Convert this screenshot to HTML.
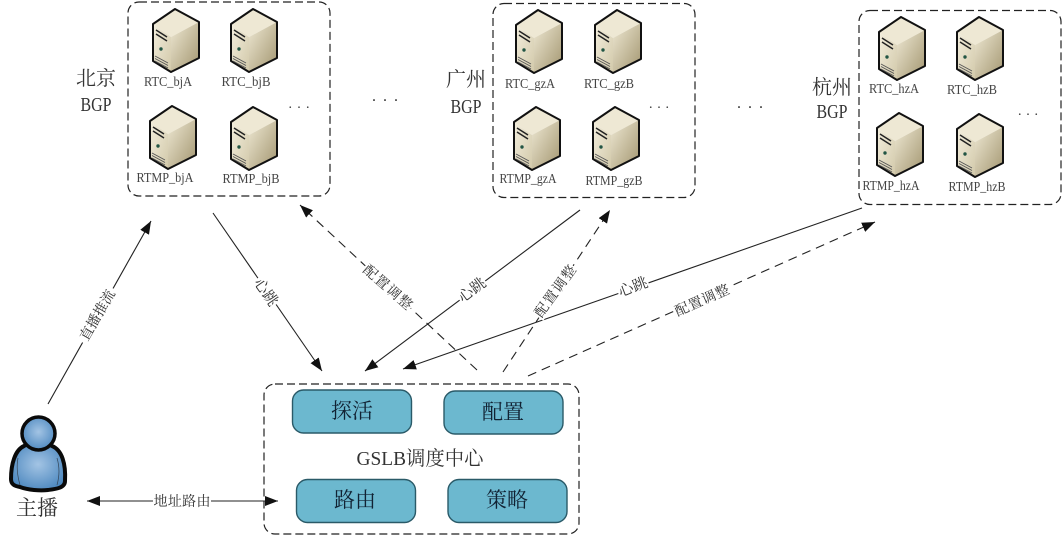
<!DOCTYPE html>
<html><head><meta charset="utf-8"><style>
html,body{margin:0;padding:0;background:#fff;width:1064px;height:538px;overflow:hidden}
svg{display:block}
text{font-family:"Liberation Serif","Noto Serif CJK SC",serif;fill:#333;text-anchor:middle}
.n{font-size:13.500px;fill:#444}
.big{font-size:20px;fill:#333}
.lb{font-size:14px;fill:#333}
.hb{font-size:15px;fill:#333}
.b{font-size:21px;fill:#123}
.box{fill:none;stroke:#222;stroke-width:1.2;stroke-dasharray:8 4}
.in{fill:#6cb8cf;stroke:#2a5a68;stroke-width:1.4}
.l{stroke:#222;stroke-width:1.1;fill:none}
.d{stroke:#222;stroke-width:1.1;fill:none;stroke-dasharray:9 6}
</style></head><body>
<svg width="1064" height="538" viewBox="0 0 1064 538" xmlns="http://www.w3.org/2000/svg">
<defs>
<linearGradient id="f" x1="0" y1="0" x2="1" y2="1"><stop offset="0" stop-color="#f3eedd"/><stop offset="1" stop-color="#d2c9aa"/></linearGradient>
<linearGradient id="r" x1="0" y1="0" x2="1" y2="1"><stop offset="0" stop-color="#eee8d3"/><stop offset="1" stop-color="#a2956f"/></linearGradient>
<radialGradient id="p" cx=".5" cy=".45" r=".6"><stop offset="0" stop-color="#a3c4e4"/><stop offset="1" stop-color="#4a86be"/></radialGradient>
<marker id="a" markerWidth="14" markerHeight="12" refX="13" refY="5" orient="auto" markerUnits="userSpaceOnUse"><path d="M0 0L13 5L0 10z" fill="#111"/></marker>
<marker id="as" markerWidth="14" markerHeight="12" refX="0" refY="5" orient="auto" markerUnits="userSpaceOnUse"><path d="M13 0L0 5L13 10z" fill="#111"/></marker>
<symbol id="s" width="50" height="66" overflow="visible">
<path d="M23 1L47 14L19 29L1 16z" fill="#eee8d4"/>
<path d="M1 16L19 29V64L1 53z" fill="url(#f)"/>
<path d="M19 29L47 14V50L19 64z" fill="url(#r)"/>
<path d="M23 1L47 14V50L19 64L1 53V16z" fill="none" stroke="#111" stroke-width="2" stroke-linejoin="round"/>
<path d="M4 22L15 29M4 26L15 33" stroke="#222" stroke-width="1.5"/>
<circle cx="9" cy="41" r="1.7" fill="#254"/>
<path d="M3 48L16 55M3 50.500L16 57.500M3 53L16 60" stroke="#555" stroke-width=".9"/>
</symbol>
</defs>

<rect class="box" x="128" y="2" width="202" height="194" rx="11"/>
<rect class="box" x="493" y="3.500" width="202" height="194" rx="11"/>
<rect class="box" x="859" y="10.500" width="202" height="194" rx="11"/>
<rect class="box" x="264" y="384" width="315" height="150" rx="11"/>

<use href="#s" x="152" y="8"/><use href="#s" x="230" y="8"/>
<use href="#s" x="149" y="105"/><use href="#s" x="230" y="106"/>
<use href="#s" x="515" y="9"/><use href="#s" x="594" y="9"/>
<use href="#s" x="513" y="106"/><use href="#s" x="592" y="106"/>
<use href="#s" x="878" y="16"/><use href="#s" x="956" y="16"/>
<use href="#s" x="876" y="112"/><use href="#s" x="956" y="113"/>

<text class="n" x="168" y="86" textLength="48" lengthAdjust="spacingAndGlyphs">RTC_bjA</text>
<text class="n" x="246" y="86" textLength="49" lengthAdjust="spacingAndGlyphs">RTC_bjB</text>
<text class="n" x="165" y="182" textLength="57" lengthAdjust="spacingAndGlyphs">RTMP_bjA</text>
<text class="n" x="251" y="183" textLength="57" lengthAdjust="spacingAndGlyphs">RTMP_bjB</text>
<text class="n" x="530" y="88" textLength="50" lengthAdjust="spacingAndGlyphs">RTC_gzA</text>
<text class="n" x="609" y="88" textLength="50" lengthAdjust="spacingAndGlyphs">RTC_gzB</text>
<text class="n" x="528" y="183" textLength="57" lengthAdjust="spacingAndGlyphs">RTMP_gzA</text>
<text class="n" x="614" y="185" textLength="57" lengthAdjust="spacingAndGlyphs">RTMP_gzB</text>
<text class="n" x="894" y="93" textLength="50" lengthAdjust="spacingAndGlyphs">RTC_hzA</text>
<text class="n" x="972" y="94" textLength="50" lengthAdjust="spacingAndGlyphs">RTC_hzB</text>
<text class="n" x="891" y="190" textLength="57" lengthAdjust="spacingAndGlyphs">RTMP_hzA</text>
<text class="n" x="977" y="191" textLength="57" lengthAdjust="spacingAndGlyphs">RTMP_hzB</text>

<text class="big" x="96" y="85">北京</text><text class="big" x="96" y="111" textLength="31" lengthAdjust="spacingAndGlyphs">BGP</text>
<text class="big" x="466" y="86">广州</text><text class="big" x="466" y="113" textLength="31" lengthAdjust="spacingAndGlyphs">BGP</text>
<text class="big" x="832" y="94">杭州</text><text class="big" x="832" y="118" textLength="31" lengthAdjust="spacingAndGlyphs">BGP</text>

<text x="299" y="108" font-size="14" textLength="21">...</text>
<text x="385" y="101" font-size="16" textLength="26">...</text>
<text x="659" y="108" font-size="14" textLength="20">...</text>
<text x="750" y="108" font-size="16" textLength="26">...</text>
<text x="1028" y="115" font-size="14" textLength="20">...</text>

<line class="l" x1="213" y1="213" x2="322" y2="371" marker-end="url(#a)"/>
<line class="d" x1="477" y1="370" x2="300" y2="205" marker-end="url(#a)"/>
<line class="l" x1="580" y1="210" x2="365" y2="371" marker-end="url(#a)"/>
<line class="d" x1="503" y1="372" x2="610" y2="210" marker-end="url(#a)"/>
<line class="l" x1="862" y1="208" x2="403" y2="369" marker-end="url(#a)"/>
<line class="d" x1="528" y1="376" x2="875" y2="222" marker-end="url(#a)"/>
<line class="l" x1="48" y1="404" x2="151" y2="221" marker-end="url(#a)"/>
<line class="l" x1="87" y1="501" x2="278" y2="501" marker-start="url(#as)" marker-end="url(#a)"/>

<g transform="translate(266 292) rotate(55)"><rect x="-16" y="-8" width="32" height="16" fill="#fff"/><text class="hb" y="5">心跳</text></g>
<g transform="translate(388 287) rotate(41)"><rect x="-31" y="-8" width="62" height="16" fill="#fff"/><text class="lb" y="5" textLength="60">配置调整</text></g>
<g transform="translate(472 290) rotate(-37)"><rect x="-16" y="-8" width="32" height="16" fill="#fff"/><text class="hb" y="5">心跳</text></g>
<g transform="translate(555 291) rotate(-54)"><rect x="-31" y="-8" width="62" height="16" fill="#fff"/><text class="lb" y="5" textLength="60">配置调整</text></g>
<g transform="translate(633 287) rotate(-21)"><rect x="-16" y="-8" width="32" height="16" fill="#fff"/><text class="hb" y="5">心跳</text></g>
<g transform="translate(702 300) rotate(-24)"><rect x="-31" y="-8" width="62" height="16" fill="#fff"/><text class="lb" y="5" textLength="58">配置调整</text></g>
<g transform="translate(97 315) rotate(-60)"><rect x="-31" y="-8" width="62" height="16" fill="#fff"/><text class="lb" y="5" textLength="56">直播推流</text></g>
<g transform="translate(182 501)"><rect x="-29" y="-8" width="58" height="16" fill="#fff"/><text class="lb" y="5" textLength="57">地址路由</text></g>

<rect class="in" x="292.500" y="390" width="119" height="43" rx="11"/>
<rect class="in" x="444" y="391" width="119" height="43" rx="11"/>
<rect class="in" x="296.500" y="479.500" width="119" height="43" rx="11"/>
<rect class="in" x="448" y="479.500" width="119" height="43" rx="11"/>
<text class="b" x="352" y="418">探活</text>
<text class="b" x="503" y="419">配置</text>
<text class="b" x="355" y="507">路由</text>
<text class="b" x="507" y="507">策略</text>
<text x="420" y="465" font-size="20" textLength="127" lengthAdjust="spacingAndGlyphs">GSLB调度中心</text>

<path d="M24 446C15 450 11 464 11 479C11 484 14 486 20 487C28 490 40 491 48 490C56 489 65 488 65 481C66 464 62 450 52 446C46 442 30 442 24 446z" fill="url(#p)" stroke="#0a0a0a" stroke-width="4" stroke-linejoin="round"/>
<path d="M18 458C16 468 18 478 20 485M57 458C60 468 59 478 57 485" stroke="#345" stroke-width=".7" fill="none"/>
<circle cx="38.500" cy="433.500" r="16.500" fill="url(#p)" stroke="#0a0a0a" stroke-width="3.500"/>
<text x="37" y="515" font-size="21">主播</text>
</svg>
</body></html>
